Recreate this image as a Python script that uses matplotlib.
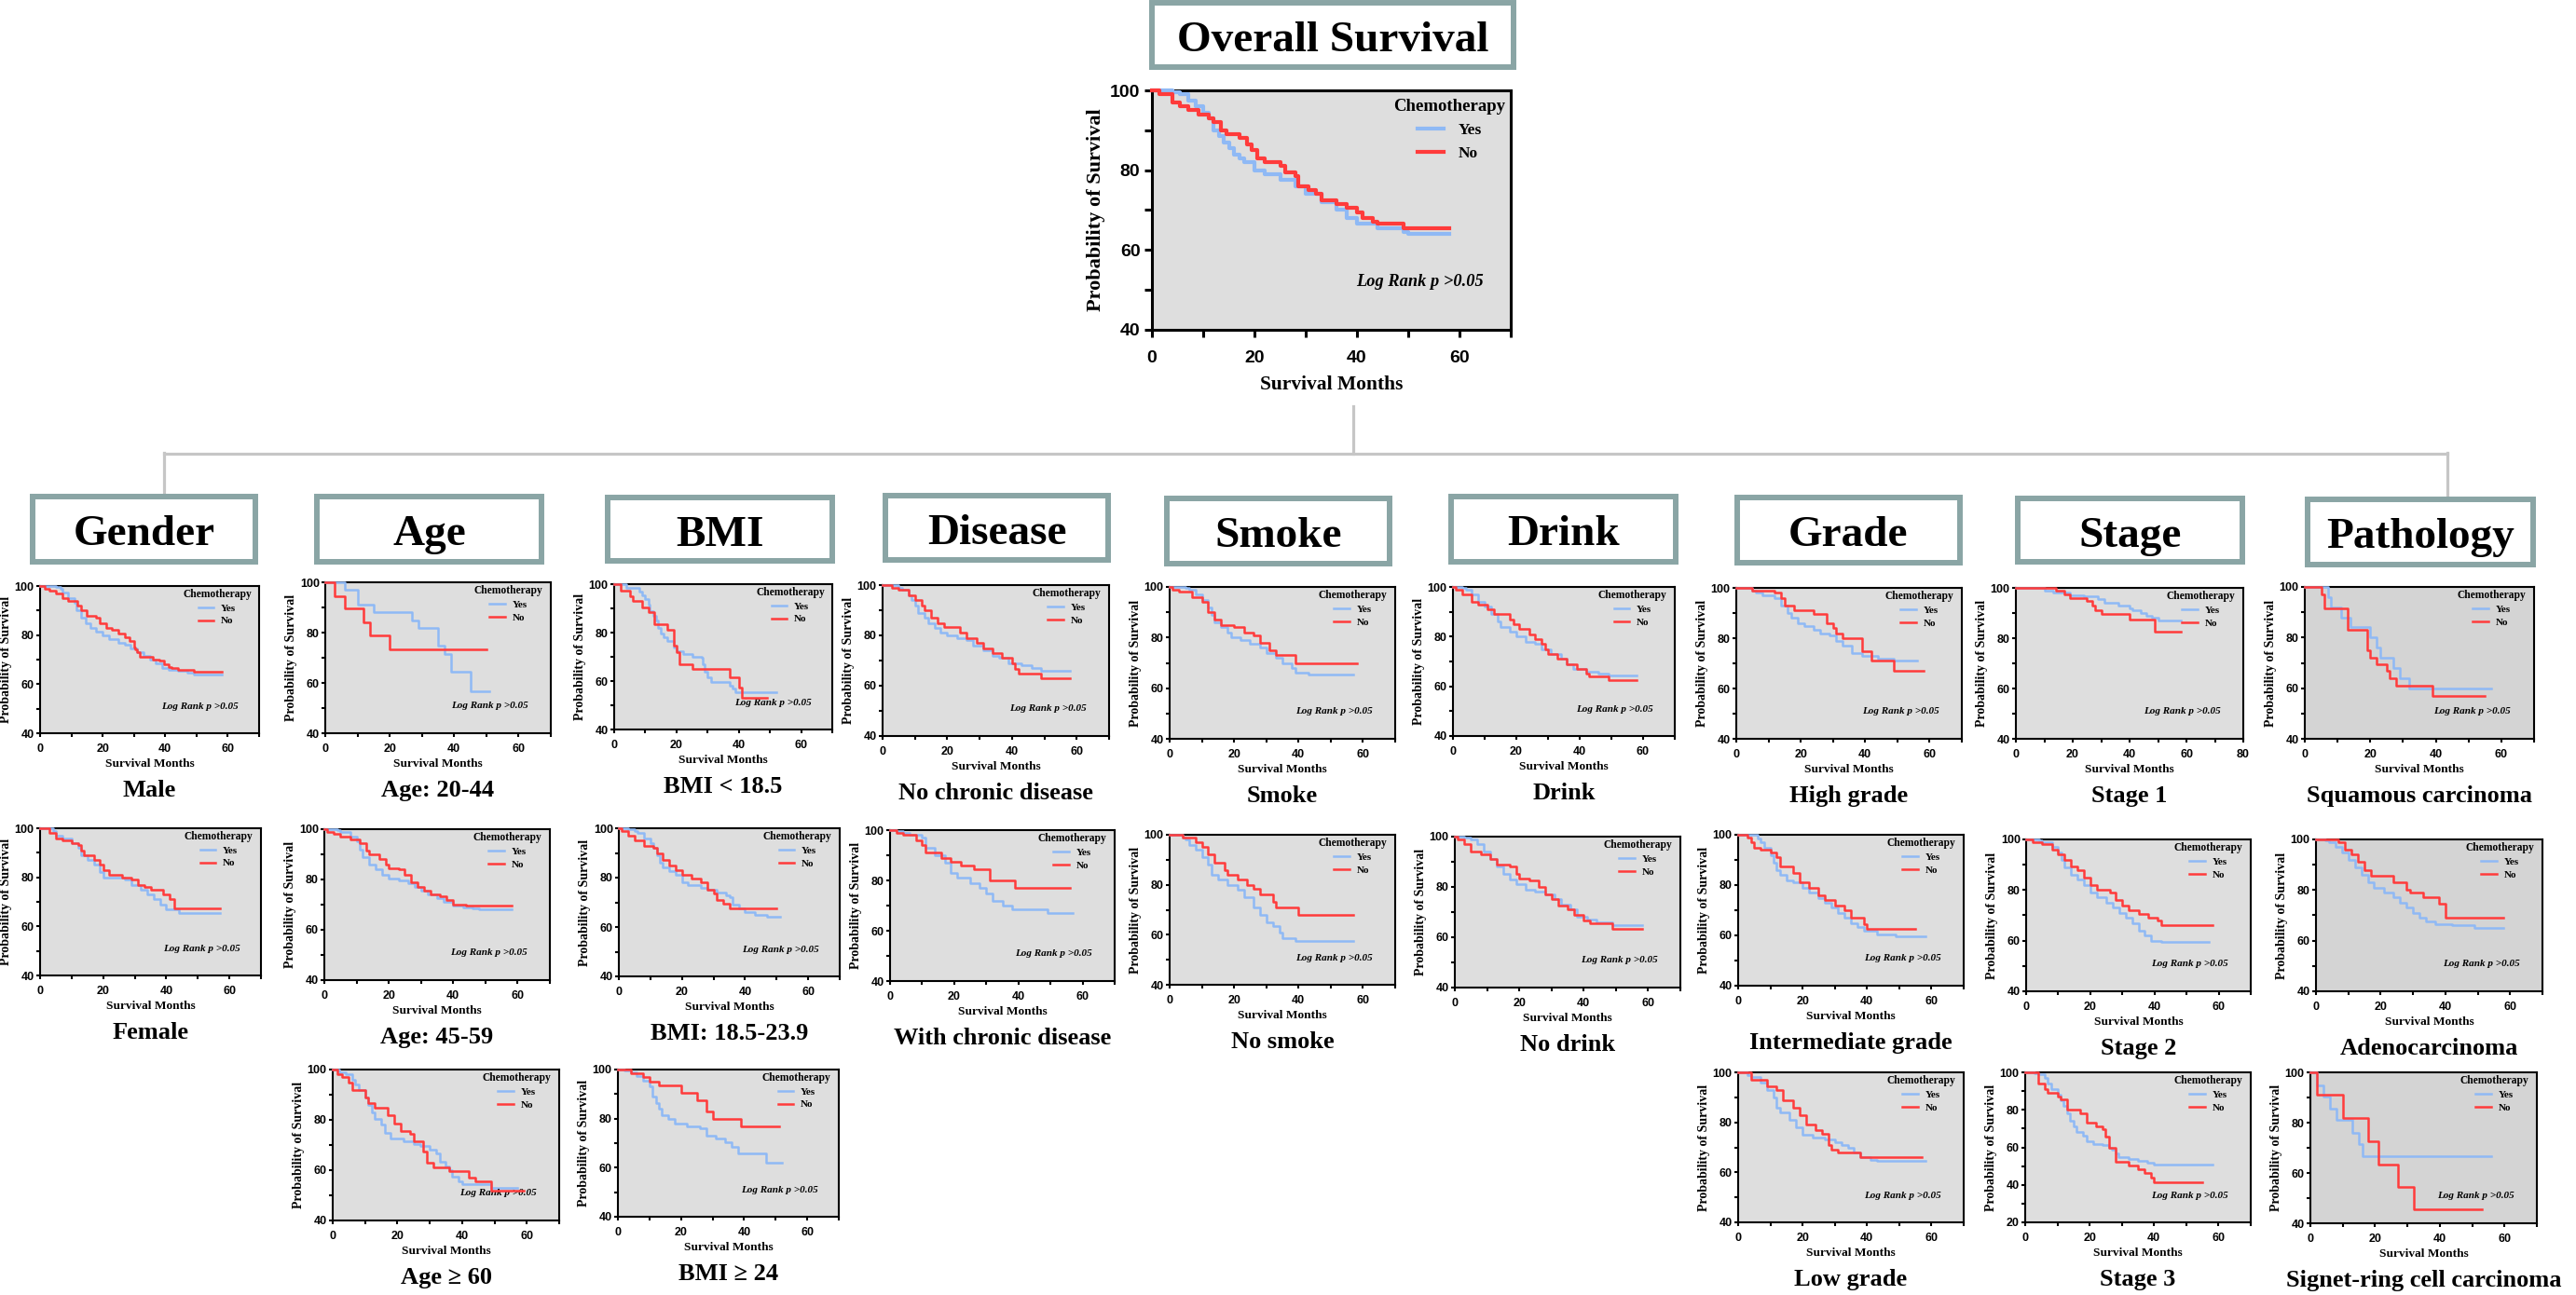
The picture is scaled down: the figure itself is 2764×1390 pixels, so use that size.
import numpy as np
import matplotlib
matplotlib.use('Agg')
import matplotlib.pyplot as plt
from matplotlib.patches import Rectangle
from matplotlib.lines import Line2D

# ---------- survival curves (months, % surviving) ----------
os_yes_t = [0, 4, 5.5, 7, 8.5, 10, 11, 12, 13, 14, 15, 16, 17, 18, 20, 22, 25, 28, 30, 33, 36, 38, 40, 44, 49, 50, 58]
os_yes_s = [100, 99.5, 99, 97.5, 96, 94.5, 93, 90, 88.5, 87, 85.5, 84, 83, 82, 80, 79, 77.5, 76, 74, 72, 70, 68, 66.5, 65.5, 64.5, 64, 64]
os_no_t = [0, 1.5, 4, 5.5, 7, 9, 11, 12, 13.5, 14.5, 17, 18.5, 19.5, 20.5, 22, 25, 26, 28, 28.5, 30.5, 32, 33, 36, 38, 40, 41, 43, 44, 49, 58]
os_no_s = [100, 99, 97, 96, 95, 94, 93, 92, 90, 89, 88, 86.5, 85, 83, 82, 81, 79.5, 78.5, 76, 75, 74, 72.5, 71.5, 70.5, 69.5, 68, 67, 66.5, 65.5, 65.5]

male_yes_t = [0, 5, 6.5, 7, 9, 11, 11.5, 13, 14.5, 16, 18, 20, 22, 25, 27, 29, 31, 33, 35, 37, 39, 41, 44, 47, 49, 58]
male_yes_s = [100, 99.5, 99, 97.5, 95, 93, 90, 87, 85, 83, 81.5, 80, 78.5, 77, 76, 74.5, 73, 71.5, 70, 68.5, 66.5, 66, 65.5, 64.5, 64, 64]
male_no_t = [0, 1.5, 3, 5, 7, 9, 12, 13, 15, 18, 19, 21, 23, 25, 27, 28.5, 30, 30.5, 31, 32, 36, 38, 39.5, 41, 42, 44, 49, 58]
male_no_s = [100, 99, 98, 97, 95, 94, 92, 90, 88, 87, 85, 83, 82, 80.5, 79, 77.5, 75, 74, 73, 71, 70, 69.5, 68, 67, 66.5, 66, 65, 65]

female_yes_t = [0, 4, 5, 7, 10, 12, 13, 15, 17, 19, 20, 27, 29, 32, 34, 36, 38, 40, 44, 57]
female_yes_s = [100, 99, 97, 96, 94, 92, 89, 87, 85, 82, 80, 79, 77, 75, 73, 71, 69, 67, 65.5, 65.5]
female_no_t = [0, 3, 5, 7, 10, 12, 13, 14, 17, 19, 20, 22, 26, 29, 31, 33, 35, 39, 41, 42.5, 57]
female_no_s = [100, 98, 96, 95, 94, 93, 91, 89, 87, 85, 83, 81, 80, 79, 77, 76, 75, 73, 71, 67.5, 67.5]

age1_yes_t = [0, 6, 10, 15, 27, 29, 35, 37, 39, 45, 51]
age1_yes_s = [100, 97, 91, 88, 85, 82, 75, 71.5, 64.5, 56.5, 56.5]
age1_no_t = [0, 3, 6, 12, 14, 20, 50]
age1_no_s = [100, 94.5, 89.5, 84, 79, 73.5, 73.5]

age2_yes_t = [0, 4, 5, 8, 10, 11, 12, 14, 16, 18, 20, 23, 26, 28, 30, 32, 35, 37, 40, 43, 46, 48, 58]
age2_yes_s = [100, 99.5, 99, 97, 95, 92, 89, 86, 84, 82, 80.5, 79.5, 78.5, 77, 75.5, 74, 72.5, 71, 69.5, 69, 68.5, 68, 68]
age2_no_t = [0, 1, 3, 5, 8, 11, 13, 14, 17, 19, 20, 23, 25, 27, 29, 31, 33, 36, 38, 40, 44, 58]
age2_no_s = [100, 99, 98, 97, 96, 94.5, 91.5, 90, 88, 86, 84.5, 84, 82, 79, 77, 75.5, 74, 73.5, 72, 70, 69.5, 69.5]

age3_yes_t = [0, 2, 4, 6, 7, 8, 10, 11, 12, 13, 15, 16, 18, 22, 25, 27, 30, 32, 33, 35, 36, 37, 39, 40, 49, 57]
age3_yes_s = [100, 99, 98, 96, 94, 92, 89, 86, 83, 80.5, 78, 75, 72.5, 71.5, 70.5, 69.5, 68, 66.5, 63.5, 61.5, 60, 57.5, 55.5, 54.5, 53, 53]
age3_no_t = [0, 1.5, 3, 5, 6, 10, 11, 13, 17, 19, 21, 24, 25, 28, 29, 31, 36, 42, 44, 49, 59]
age3_no_s = [100, 98, 97, 95, 92, 89, 86.5, 85, 82, 78.5, 75.5, 74.5, 71.5, 67.5, 63, 61, 59.5, 57, 55.5, 52, 52]

bmi1_yes_t = [0, 4, 8, 9, 10, 11, 11.5, 12.5, 13.5, 14, 15, 16, 17, 19, 20, 22, 25, 28, 28.5, 29, 30, 31, 37, 38, 39, 52]
bmi1_yes_s = [100, 98.5, 97, 95.5, 94, 91.5, 89, 87, 85, 82, 79.5, 78, 76.5, 74, 72.5, 71, 70, 69.5, 67, 64, 61.5, 59.5, 58, 57, 55.5, 55.5]
bmi1_no_t = [0, 2, 5, 6, 9, 11, 13, 17, 19, 20, 21, 25, 37, 40, 41, 49]
bmi1_no_s = [100, 97.5, 95, 93, 90.5, 88.5, 83.5, 81, 74.5, 72, 67, 65, 61.5, 57.5, 53, 53]

bmi2_yes_t = [0, 3, 5, 6, 8, 10, 11, 12, 13, 14, 16, 18, 20, 22, 26, 28, 31, 34, 35, 36, 38, 40, 43, 47, 51]
bmi2_yes_s = [100, 99.5, 99, 98, 96, 94, 92, 89, 86, 84, 82.5, 81, 78, 77, 76, 75, 74, 73, 72, 69, 67.5, 66, 65, 64, 64]
bmi2_no_t = [0, 1, 3, 5, 8, 11, 12, 14, 16, 18, 20, 23, 26, 28, 30, 31, 33, 35, 50]
bmi2_no_s = [100, 99, 97, 95, 93, 92, 90, 87, 85, 83, 81, 79.5, 78, 75, 73.5, 71, 69.5, 67.5, 67.5]

bmi3_yes_t = [0, 2, 4, 6, 8, 10, 11, 12, 13, 14, 16, 18, 22, 26, 28, 31, 34, 36, 38, 47, 52]
bmi3_yes_s = [100, 99.5, 99, 97.5, 95.5, 93, 89, 86.5, 84, 81.5, 80, 78, 77, 76, 73, 72, 70.5, 68.5, 66, 62, 62]
bmi3_no_t = [0, 4, 8, 10, 13, 20, 25, 28, 30, 39, 51]
bmi3_no_s = [100, 98.5, 97, 95, 93.5, 90.5, 87.5, 83, 80, 77, 77]

dis1_yes_t = [0, 5, 6, 8, 9, 10, 11, 13, 14, 16, 18, 20, 23, 26, 28, 31, 34, 36, 39, 43, 46, 49, 58]
dis1_yes_s = [100, 99, 98, 96, 94, 92, 89, 87, 85, 83, 81, 80, 79, 78, 76, 74, 72, 71, 69, 68, 67, 66, 66]
dis1_no_t = [0, 3, 5, 8, 10, 12, 13, 15, 17, 19, 24, 26, 29, 31, 34, 37, 40, 41, 42, 49, 58]
dis1_no_s = [100, 99, 98, 96, 94, 92, 90, 87, 85, 83.5, 81, 79, 77, 75, 73, 71, 69, 66.5, 65, 63, 63]

dis2_yes_t = [0, 2, 4, 6, 10, 11, 14, 17, 19, 21, 25, 28, 30, 32, 35, 38, 49, 57]
dis2_yes_s = [100, 99.5, 99, 98, 97, 93, 90, 87, 83, 81, 79, 77, 75, 72, 70, 68.5, 67, 67]
dis2_no_t = [0, 2, 4, 8, 10, 11, 16, 19, 22, 26, 31, 39, 56]
dis2_no_s = [100, 99, 98, 96, 94, 91, 89, 87.5, 86, 84.5, 80, 77, 77]

smk1_yes_t = [0, 5, 6, 8, 10, 12, 13, 14, 16, 18, 19, 22, 25, 28, 30, 33, 35, 38, 39, 43, 57]
smk1_yes_s = [100, 99.5, 99, 97, 95, 92, 89, 86, 84, 82, 80, 79, 77.5, 76, 74, 72, 70, 68, 66, 65.5, 65.5]
smk1_no_t = [0, 1, 3, 7, 10, 12, 14, 16, 20, 23, 26, 28, 31, 33, 39, 58]
smk1_no_s = [100, 99, 98, 96, 94, 90, 87, 85, 84, 82, 81, 78, 75, 73, 70, 70]

smk2_yes_t = [0, 4, 5, 6, 8, 10, 12, 13, 15, 18, 21, 23, 26, 28, 30, 32, 34, 35, 39, 57]
smk2_yes_s = [100, 99, 98, 96, 94, 91, 88, 84, 82, 80, 78, 75, 71, 68, 65, 63.5, 61, 58.5, 57.5, 57.5]
smk2_no_t = [0, 4, 8, 10, 12, 14, 17, 18, 21, 24, 26, 28, 32, 33, 40, 57]
smk2_no_s = [100, 99, 97, 95, 92, 89, 86, 84, 82, 80, 78.5, 76, 73, 71, 68, 68]

drk1_yes_t = [0, 3, 4, 6, 8, 10, 12, 14, 15, 18, 20, 23, 26, 28, 31, 34, 36, 38, 42, 46, 49, 58]
drk1_yes_s = [100, 99.5, 99, 97, 94, 92, 89, 86, 84, 82, 80, 78, 77, 75, 73, 71, 69, 67, 66, 65, 64.5, 64.5]
drk1_no_t = [0, 1, 3, 6, 8, 11, 13, 18, 19, 21, 24, 26, 28, 29, 30, 33, 36, 39, 42, 43, 49, 58]
drk1_no_s = [100, 99, 97, 94, 93, 91, 89, 87, 85, 83, 81, 79, 77, 75, 73, 71, 69, 67, 65, 64, 62.5, 62.5]

drk2_yes_t = [0, 3, 5, 7, 9, 11, 13, 15, 17, 19, 22, 25, 28, 31, 33, 36, 38, 41, 44, 49, 58]
drk2_yes_s = [100, 99.5, 99, 97, 94, 91, 88, 85, 83, 81, 79, 78, 77, 75, 73, 71, 68, 67, 66, 65, 65]
drk2_no_t = [0, 1, 3, 5, 8, 11, 13, 17, 19, 20, 23, 26, 28, 30, 32, 35, 37, 40, 42, 49, 58]
drk2_no_s = [100, 99, 97, 94, 93, 91, 89, 88, 85, 83.5, 82.5, 80, 77, 75, 72.5, 71, 69, 66.5, 65.5, 63.5, 63.5]

grd1_yes_t = [0, 5, 6, 8, 12, 14, 16, 17, 19, 21, 24, 26, 29, 31, 33, 36, 39, 44, 49, 56]
grd1_yes_s = [100, 99, 98, 97, 96, 93, 90, 88, 86, 85, 83.5, 82, 81, 79, 77, 74, 73, 72, 71, 71]
grd1_no_t = [0, 5, 12, 14, 15, 18, 24, 28, 30, 31, 33, 39, 42, 49, 58]
grd1_no_s = [100, 99, 98, 96, 93, 91, 89.5, 86, 84, 82, 80, 75, 71, 67, 67]

grd2_yes_t = [0, 6, 7, 8, 10, 11, 12, 13, 15, 17, 20, 22, 25, 27, 29, 31, 33, 35, 37, 39, 43, 49, 58]
grd2_yes_s = [100, 98.5, 97, 95, 92, 89, 86, 84, 82, 81, 79, 77, 75, 73, 71, 69, 67, 65, 63.5, 62, 60.5, 59.5, 59.5]
grd2_no_t = [0, 3, 4, 5, 7, 10, 12, 13, 17, 19, 22, 25, 27, 30, 33, 35, 39, 40, 55]
grd2_no_s = [100, 99, 97, 95, 94, 93, 91, 87.5, 85, 81, 79, 76, 74, 72, 70, 67, 64.5, 62.5, 62.5]

grd3_yes_t = [0, 3, 4, 7, 9, 11, 12, 13, 16, 18, 20, 23, 27, 30, 32, 34, 36, 38, 41, 43, 58]
grd3_yes_s = [100, 99, 98, 96, 93, 90, 86, 84, 81, 78, 75, 74, 73, 72, 71, 70, 68, 66, 65, 64.5, 64.5]
grd3_no_t = [0, 4, 9, 12, 14, 17, 19, 21, 24, 26, 28, 29, 31, 38, 57]
grd3_no_s = [100, 97, 94.5, 93, 89, 86, 83, 79, 77, 75.5, 71, 69, 68, 66, 66]

stg1_yes_t = [0, 10, 13, 19, 24, 29, 31, 36, 40, 41, 44, 46, 48, 50, 58]
stg1_yes_s = [100, 99, 98, 97, 96.5, 95.5, 94, 93, 92, 91, 90, 89, 88, 87, 87]
stg1_no_t = [0, 14, 17, 19, 25, 27, 28, 30, 40, 49, 58]
stg1_no_s = [100, 99, 97.5, 96, 95, 93, 91, 89.5, 87.5, 82.5, 82.5]

stg2_yes_t = [0, 4, 5, 8, 10, 11, 12, 14, 16, 18, 20, 22, 25, 27, 29, 31, 33, 35, 37, 39, 42, 57]
stg2_yes_s = [100, 99.5, 99, 97, 95, 92, 89, 86, 84, 82, 79, 77, 75, 73, 71, 69, 67, 64, 62, 60, 59.5, 59.5]
stg2_no_t = [0, 2, 5, 8, 10, 12, 14, 16, 18, 20, 22, 26, 28, 30, 32, 35, 38, 41, 42, 58]
stg2_no_s = [100, 99, 98, 96, 94, 92, 89.5, 88, 85, 82, 80, 79, 76, 74, 72, 70.5, 69, 68, 66, 66]

stg3_yes_t = [0, 3, 4, 6, 7, 8, 10, 11, 12, 13, 14, 15, 16, 18, 19, 21, 24, 26, 27, 28, 29, 32, 35, 38, 40, 58]
stg3_yes_s = [100, 99.5, 99, 97, 94, 91, 88, 85, 82, 78, 74, 71, 68, 66, 63, 61.5, 61, 60, 59, 57, 55, 54, 53, 52, 51, 51]
stg3_no_t = [0, 4, 6, 7, 10, 11, 13, 17, 19, 22, 24, 25, 26, 28, 32, 35, 37, 39, 40, 55]
stg3_no_s = [100, 94, 91, 89, 87, 85.5, 80, 78, 73, 71, 69.5, 65.5, 60, 52.5, 50.5, 48.5, 46.5, 44, 41.5, 41.5]

pth1_yes_t = [0, 7, 8, 11, 14, 20, 22, 23, 27, 29, 32, 57]
pth1_yes_s = [100, 96, 92, 88, 84, 80, 76, 72, 68, 64, 60, 60]
pth1_no_t = [0, 5, 6, 13, 19, 20, 22, 25, 26, 28, 39, 55]
pth1_no_s = [100, 97, 91.5, 83, 75, 72, 69.5, 67, 64, 61, 57, 57]

pth2_yes_t = [0, 3, 4, 6, 8, 10, 12, 14, 16, 18, 21, 24, 26, 28, 30, 32, 34, 37, 42, 49, 58]
pth2_yes_s = [100, 99.5, 99, 97, 95, 92, 89, 86, 83, 81, 79, 77, 75, 73, 71, 69, 67.5, 66.5, 66, 65, 65]
pth2_no_t = [0, 7, 9, 11, 13, 15, 17, 24, 28, 29, 33, 38, 40, 58]
pth2_no_s = [100, 99, 96, 94, 91, 88, 85.5, 83, 80, 79, 77, 74.5, 69, 69]

pth3_yes_t = [0, 2, 4, 6, 8, 13, 15, 16, 56]
pth3_yes_s = [100, 95, 90.5, 85.5, 81, 76, 71.5, 66.5, 66.5]
pth3_no_t = [0, 2, 10, 18, 21, 27, 32, 53]
pth3_no_s = [100, 91, 82, 72.5, 63.5, 54.5, 45.5, 45.5]

headers = ['Gender', 'Age', 'BMI', 'Disease', 'Smoke', 'Drink', 'Grade', 'Stage', 'Pathology']

# ---------- layout (pixel boxes on the 2764 x 1390 canvas) ----------
W, H = 2764, 1390
SERIF = ['Liberation Serif', 'DejaVu Serif']
SANS = ['Liberation Sans', 'DejaVu Sans']
BLUE = '#8FB9F5'
RED = '#FF3B3B'
BOX_EDGE = '#8AA5A5'
TREE = '#C6C6C6'

header_boxes = [(32, 530, 277, 606), (337, 530, 584, 606), (649, 531, 896, 605),
                (947, 529, 1192, 604), (1249, 532, 1494, 608), (1554, 530, 1801, 606),
                (1861, 531, 2106, 607), (2162, 532, 2409, 606), (2473, 533, 2721, 609)]

# (yes, no, subtitle, axes box, xmax, ymin, background)
panels = [
    ((male_yes_t, male_yes_s), (male_no_t, male_no_s), 'Male', (43, 629, 278, 787), 70, 40, '#DEDEDE'),
    ((female_yes_t, female_yes_s), (female_no_t, female_no_s), 'Female', (43, 889, 280, 1047), 70, 40, '#DEDEDE'),
    ((age1_yes_t, age1_yes_s), (age1_no_t, age1_no_s), 'Age: 20-44', (349, 625, 591, 787), 70, 40, '#DEDEDE'),
    ((age2_yes_t, age2_yes_s), (age2_no_t, age2_no_s), 'Age: 45-59', (348, 890, 590, 1052), 70, 40, '#DEDEDE'),
    ((age3_yes_t, age3_yes_s), (age3_no_t, age3_no_s), 'Age \u2265 60', (357, 1148, 600, 1310), 70, 40, '#DEDEDE'),
    ((bmi1_yes_t, bmi1_yes_s), (bmi1_no_t, bmi1_no_s), 'BMI < 18.5', (659, 627, 893, 783), 70, 40, '#DEDEDE'),
    ((bmi2_yes_t, bmi2_yes_s), (bmi2_no_t, bmi2_no_s), 'BMI: 18.5-23.9', (664, 889, 901, 1048), 70, 40, '#DEDEDE'),
    ((bmi3_yes_t, bmi3_yes_s), (bmi3_no_t, bmi3_no_s), 'BMI \u2265 24', (663, 1148, 900, 1306), 70, 40, '#DEDEDE'),
    ((dis1_yes_t, dis1_yes_s), (dis1_no_t, dis1_no_s), 'No chronic disease', (947, 628, 1190, 790), 70, 40, '#DEDEDE'),
    ((dis2_yes_t, dis2_yes_s), (dis2_no_t, dis2_no_s), 'With chronic disease', (955, 891, 1196, 1053), 70, 40, '#DEDEDE'),
    ((smk1_yes_t, smk1_yes_s), (smk1_no_t, smk1_no_s), 'Smoke', (1255, 630, 1497, 793), 70, 40, '#DEDEDE'),
    ((smk2_yes_t, smk2_yes_s), (smk2_no_t, smk2_no_s), 'No smoke', (1255, 896, 1497, 1057), 70, 40, '#DEDEDE'),
    ((drk1_yes_t, drk1_yes_s), (drk1_no_t, drk1_no_s), 'Drink', (1559, 630, 1797, 790), 70, 40, '#DEDEDE'),
    ((drk2_yes_t, drk2_yes_s), (drk2_no_t, drk2_no_s), 'No drink', (1561, 898, 1803, 1060), 70, 40, '#DEDEDE'),
    ((grd1_yes_t, grd1_yes_s), (grd1_no_t, grd1_no_s), 'High grade', (1863, 631, 2105, 793), 70, 40, '#DEDEDE'),
    ((grd2_yes_t, grd2_yes_s), (grd2_no_t, grd2_no_s), 'Intermediate grade', (1865, 896, 2107, 1058), 70, 40, '#DEDEDE'),
    ((grd3_yes_t, grd3_yes_s), (grd3_no_t, grd3_no_s), 'Low grade', (1865, 1151, 2107, 1312), 70, 40, '#DEDEDE'),
    ((stg1_yes_t, stg1_yes_s), (stg1_no_t, stg1_no_s), 'Stage 1', (2163, 631, 2407, 793), 80, 40, '#DEDEDE'),
    ((stg2_yes_t, stg2_yes_s), (stg2_no_t, stg2_no_s), 'Stage 2', (2174, 901, 2415, 1064), 70, 40, '#DEDEDE'),
    ((stg3_yes_t, stg3_yes_s), (stg3_no_t, stg3_no_s), 'Stage 3', (2173, 1151, 2415, 1312), 70, 20, '#DEDEDE'),
    ((pth1_yes_t, pth1_yes_s), (pth1_no_t, pth1_no_s), 'Squamous carcinoma', (2473, 630, 2719, 793), 70, 40, '#D4D4D4'),
    ((pth2_yes_t, pth2_yes_s), (pth2_no_t, pth2_no_s), 'Adenocarcinoma', (2485, 901, 2728, 1064), 70, 40, '#D4D4D4'),
    ((pth3_yes_t, pth3_yes_s), (pth3_no_t, pth3_no_s), 'Signet-ring cell carcinoma', (2479, 1151, 2722, 1313), 70, 40, '#D4D4D4'),
]

SMALL = dict(tick=9, ylab=10, xlab=9.6, ltitle=8.3, lentry=8, logrank=8, lw=1.8, spine=1.5,
             tlen=3, xpad=5, ypad=1.5, xlpad=3, ylpad=2, anchor=(0.965, 0.98),
             hlen=1.5, hpad=0.7, lspace=0.35, lr_pos=(0.73, 0.18))
BIG = dict(tick=14, ylab=16, xlab=15.5, ltitle=13.5, lentry=12.5, logrank=13.2, lw=3, spine=2.2,
           tlen=6, xpad=10, ypad=3, xlpad=7, ylpad=4, anchor=(0.985, 0.965),
           hlen=1.6, hpad=0.9, lspace=0.5, lr_pos=(0.746, 0.2))

fig = plt.figure(figsize=(W / 100, H / 100), dpi=100)


def fx(x):
    return x / W


def fy(y):
    return 1 - y / H


def px_axes(box):
    x0, y0, x1, y1 = box
    return fig.add_axes([fx(x0), fy(y1), (x1 - x0) / W, (y1 - y0) / H])


def km_panel(ax, yes, no, xmax, ymin, bg, st):
    ax.set_facecolor(bg)
    ly, = ax.step(yes[0], yes[1], where='post', color=BLUE, lw=st['lw'], zorder=3, clip_on=False)
    ln, = ax.step(no[0], no[1], where='post', color=RED, lw=st['lw'], zorder=4, clip_on=False)
    ax.set_xlim(0, xmax)
    ax.set_ylim(ymin, 100)
    xt = np.arange(0, xmax + 1, 10)
    yt = np.arange(ymin, 101, 10)
    ax.set_xticks(xt)
    ax.set_xticklabels([str(v) if v % 20 == 0 else '' for v in xt])
    ax.set_yticks(yt)
    ax.set_yticklabels([str(v) if v % 20 == 0 else '' for v in yt])
    for lab in ax.get_xticklabels() + ax.get_yticklabels():
        lab.set_fontfamily(SANS)
        lab.set_fontweight('bold')
        lab.set_fontsize(st['tick'])
    ax.tick_params(axis='both', direction='out', length=st['tlen'], width=st['spine'], color='black')
    ax.tick_params(axis='x', pad=st['xpad'])
    ax.tick_params(axis='y', pad=st['ypad'])
    for sp in ax.spines.values():
        sp.set_linewidth(st['spine'])
        sp.set_color('black')
    ax.set_xlabel('Survival Months', family=SERIF, weight='bold', size=st['xlab'], labelpad=st['xlpad'])
    ax.set_ylabel('Probability of Survival', family=SERIF, weight='bold', size=st['ylab'], labelpad=st['ylpad'])
    ax.legend([ly, ln], ['Yes', 'No'], title='Chemotherapy', loc='upper right',
              bbox_to_anchor=st['anchor'], frameon=False, borderpad=0, borderaxespad=0,
              handlelength=st['hlen'], handletextpad=st['hpad'], labelspacing=st['lspace'],
              prop=dict(family=SERIF, weight='bold', size=st['lentry']),
              title_fontproperties=dict(family=SERIF, weight='bold', size=st['ltitle']))
    ax.text(st['lr_pos'][0], st['lr_pos'][1], 'Log Rank p >0.05', transform=ax.transAxes,
            ha='center', va='center', family=SERIF, style='italic', weight='bold', size=st['logrank'])


def header_box(box, label):
    x0, y0, x1, y1 = box
    fig.add_artist(Rectangle((fx(x0 + 3), fy(y1 - 3)), (x1 - x0 - 6) / W, (y1 - y0 - 6) / H,
                             transform=fig.transFigure, facecolor='white', edgecolor=BOX_EDGE,
                             lw=4.3, zorder=2))
    fig.text(fx((x0 + x1) / 2), fy(y0 + 55), label, ha='center', va='baseline',
             family=SERIF, weight='bold', size=34, zorder=3)


# ---------- overall survival ----------
header_box((1233, 0, 1627, 75), 'Overall Survival')
ax_main = px_axes((1236, 97, 1621, 354))
km_panel(ax_main, (os_yes_t, os_yes_s), (os_no_t, os_no_s), 70, 40, '#DEDEDE', BIG)

# ---------- tree connectors ----------
for (xa, ya, xb, yb) in [(1452, 436, 1452, 487), (176, 487, 2626, 487),
                         (176, 486, 176, 531), (2626, 486, 2626, 534)]:
    fig.add_artist(Line2D([fx(xa), fx(xb)], [fy(ya), fy(yb)], transform=fig.transFigure,
                          color=TREE, lw=2.3, zorder=1))

for box, name in zip(header_boxes, headers):
    header_box(box, name)

# ---------- subgroup panels ----------
for yes, no, title, box, xmax, ymin, bg in panels:
    ax = px_axes(box)
    km_panel(ax, yes, no, xmax, ymin, bg, SMALL)
    fig.text(fx((box[0] + box[2]) / 2), fy(box[3] + 68), title, ha='center', va='baseline',
             family=SERIF, weight='bold', size=19)

fig.savefig('out.png', dpi=100, facecolor='white')
